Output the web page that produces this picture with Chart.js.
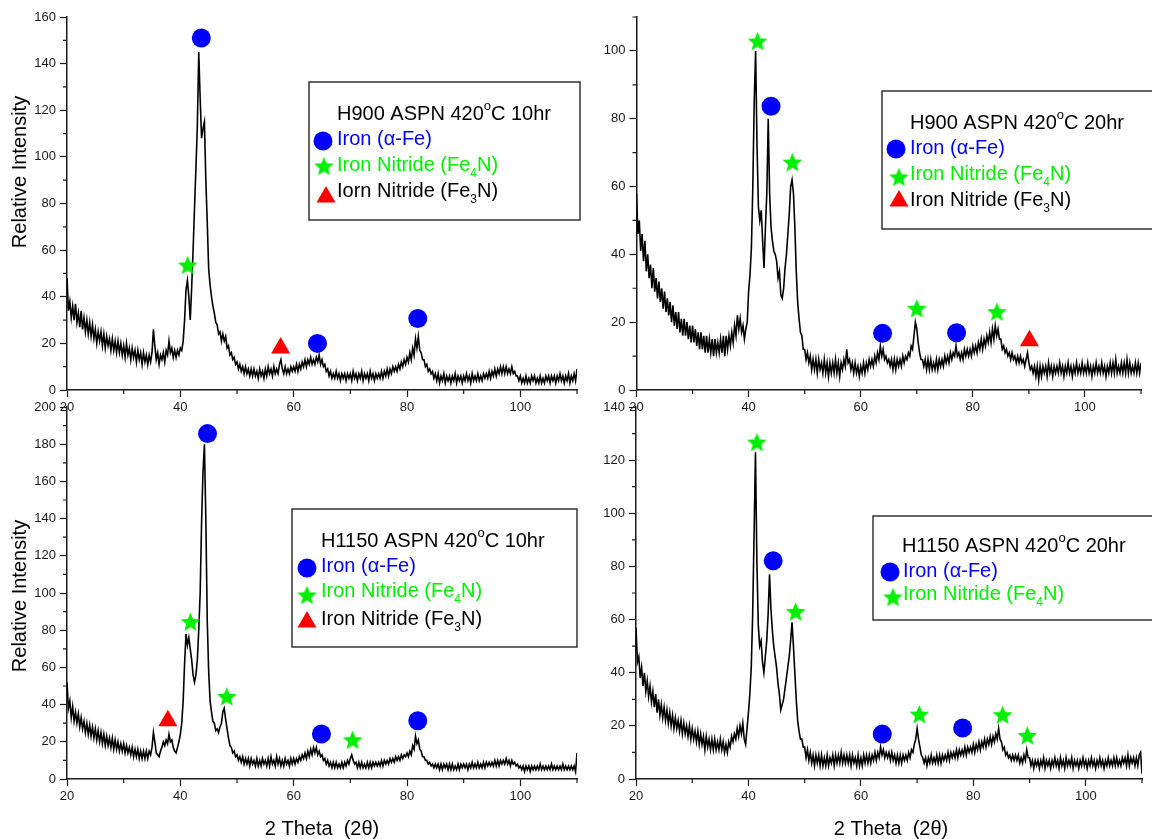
<!DOCTYPE html>
<html>
<head>
<meta charset="utf-8">
<title>XRD – H900 / H1150 ASPN 420°C</title>
<script src="https://cdn.jsdelivr.net/npm/chart.js@4.4.1/dist/chart.umd.min.js"></script>
<style>
  html, body { margin: 0; padding: 0; background: #fff; }
  #wrap { position: relative; width: 1152px; height: 839px; overflow: hidden; }
  #wrap canvas { position: absolute; left: 0; top: 0; }
</style>
</head>
<body>
<div id="wrap">
  <canvas id="h900_10" width="1152" height="839"></canvas>
  <canvas id="h900_20" width="1152" height="839"></canvas>
  <canvas id="h1150_10" width="1152" height="839"></canvas>
  <canvas id="h1150_20" width="1152" height="839"></canvas>
</div>
<script>
// 2θ sampling of the scans: 20° .. 110°, every 0.25°
const angleStart = 20, angleEnd = 110, angleStep = 0.25;
const angles = [];
for (let a = angleStart; a <= angleEnd + 1e-9; a += angleStep) angles.push(+a.toFixed(2));

// intensities, one row = 5° (20 samples)
const h900_10hr = [
  48,34,38,31,36,30,37,29,33,27,34,26,31,25,30,24,29,23,28,22,   // 20
  26,20,25,21,25,19,24,18,23,19,22,17,22,17,21,16,21,16,20,15,   // 25
  19,14,20,15,18,13,18,14,17,12,17,13,16,11,16,12,15,11,15,12,   // 30
  16,26,19,13,16,11,15,13,16,12,17,15,21,16,18,14,17,14,17,15,   // 35
  18,17,21,30,43,47,40,30,44,60,78,95,113,145,125,108,112,115,90,72, // 40
  52,45,40,36,33,29,28,24,25,21,24,21,23,18,19,15,16,13,14,11,   // 45
  12,9,11,8,10,7,10,7,9,6,9,6,9,6,8,5,9,6,8,5,                   // 50
  9,6,10,7,9,6,10,7,9,7,11,13,9,7,10,7,9,7,10,8,                 // 55
  10,8,11,8,11,9,12,10,13,10,13,11,14,11,13,11,14,12,15,11,      // 60
  13,10,11,8,9,6,8,5,7,5,8,5,7,4,7,5,7,4,7,5,                    // 65
  7,4,8,5,7,4,7,5,8,4,7,5,7,4,8,5,7,4,7,5,                       // 70
  7,5,8,5,8,6,9,6,9,7,10,8,10,8,11,9,12,10,13,11,                // 75
  14,12,16,13,18,15,22,18,23,17,16,13,13,10,11,8,9,7,8,5,        // 80
  7,4,7,3,6,4,7,3,6,4,6,3,6,4,7,3,6,4,6,3,                       // 85
  6,4,7,4,6,3,7,4,6,4,7,4,6,4,7,5,7,5,8,5,                       // 90
  8,6,9,6,9,7,10,7,10,7,10,7,9,7,10,7,8,6,6,4,                   // 95
  6,3,5,3,6,3,5,3,6,4,6,3,5,3,6,3,5,3,6,4,                       // 100
  6,3,6,4,6,3,6,4,7,4,6,3,6,4,7,3,6,4,7,4,                       // 105
  9                                                              // 110
];
const h900_20hr = [
  58,46,50,41,46,38,44,35,40,33,37,30,36,29,33,27,32,26,30,24,   // 20
  29,23,27,22,26,20,25,19,23,18,23,17,21,16,21,16,20,15,19,14,   // 25
  19,14,18,13,17,12,17,12,16,11,16,11,15,11,15,10,15,11,14,11,   // 30
  15,11,16,10,16,12,16,13,17,14,19,16,22,18,21,17,19,15,18,20,   // 35
  29,34,42,60,85,100,72,54,50,53,44,36,48,58,80,58,48,44,41,40,  // 40
  38,33,35,28,27,30,36,40,46,52,60,62,58,48,35,26,21,17,16,12,   // 45
  12,9,11,8,10,6,9,6,9,5,9,6,8,5,9,5,8,4,8,5,                    // 50
  8,5,9,5,8,4,8,6,9,7,12,8,9,6,8,5,8,5,7,4,                      // 55
  7,5,8,5,8,6,9,7,9,7,10,8,11,9,13,10,12,9,10,8,                 // 60
  9,7,9,6,9,6,9,7,9,7,10,8,10,9,11,10,13,12,16,20,               // 65
  18,14,11,9,9,7,9,6,9,6,9,6,8,6,9,6,9,7,9,7,                    // 70
  10,8,10,8,11,9,11,10,13,10,11,9,11,9,12,10,12,10,12,10,        // 75
  13,11,13,11,14,12,15,12,15,13,16,14,17,14,18,15,19,16,18,15,   // 80
  15,12,13,11,12,10,11,9,11,9,10,8,10,8,10,8,9,7,9,11,           // 85
  8,6,7,5,7,4,7,3,7,4,7,5,7,4,8,5,7,4,7,5,                       // 90
  7,5,8,5,7,4,7,5,8,5,7,4,7,5,8,5,7,5,8,5,                       // 95
  7,5,8,5,7,4,7,5,8,5,7,5,8,5,7,4,7,5,8,5,                       // 100
  8,5,9,5,7,5,8,5,8,5,9,5,8,5,7,5,8,5,8,5,                       // 105
  8                                                              // 110
];
const h1150_10hr = [
  52,38,42,33,39,31,36,30,35,28,33,27,31,25,30,24,29,23,28,22,   // 20
  27,21,26,20,25,19,24,18,23,18,22,17,22,16,21,16,20,15,19,15,   // 25
  19,14,18,14,17,13,17,12,16,12,16,11,15,11,15,11,15,11,15,13,   // 30
  17,25,20,14,13,12,15,17,20,18,21,19,24,20,21,17,15,14,17,20,   // 35
  24,30,42,62,78,72,76,70,64,56,52,56,64,80,100,138,165,180,140,85, // 40
  58,42,36,31,30,26,27,25,28,30,36,38,32,27,22,18,17,14,15,12,   // 45
  13,10,12,9,12,8,11,8,11,7,11,8,10,7,11,7,10,7,11,8,            // 50
  10,7,11,7,12,8,10,7,12,8,11,7,10,7,11,8,10,7,11,8,             // 55
  11,8,11,9,12,10,13,11,14,11,15,12,16,13,17,14,17,13,15,12,     // 60
  13,10,11,8,10,7,9,6,9,6,9,6,8,6,9,6,9,7,10,8,                  // 65
  11,13,10,8,9,6,9,6,9,6,8,6,9,6,9,6,9,7,9,7,                    // 70
  9,7,10,7,10,8,10,8,11,9,11,9,12,10,12,10,13,11,13,12,          // 75
  14,12,15,13,18,16,23,19,21,16,15,12,12,10,10,8,9,7,8,6,        // 80
  8,6,8,5,8,5,8,6,8,5,8,5,8,5,7,5,8,5,8,6,                       // 85
  8,6,8,5,8,6,9,6,8,6,9,6,8,6,9,6,9,7,9,7,                       // 90
  9,7,10,7,10,7,10,8,10,8,11,8,10,7,10,8,9,7,8,6,                // 95
  7,5,7,4,7,5,7,4,7,5,7,5,7,5,8,5,7,5,7,5,                       // 100
  7,5,8,5,7,5,7,5,7,5,8,5,7,5,7,5,7,5,7,4,                       // 105
  14                                                             // 110
];
const h1150_20hr = [
  57,44,46,38,42,35,40,33,37,31,35,29,33,27,32,25,30,24,28,23,   // 20
  27,22,26,21,25,20,24,19,23,19,22,18,22,17,21,17,20,16,20,15,   // 25
  19,15,18,14,18,13,17,13,16,11,16,12,15,11,15,11,15,11,14,11,   // 30
  15,11,14,10,13,10,14,12,16,14,17,15,19,16,20,17,21,15,13,19,   // 35
  25,32,42,62,92,123,82,58,50,52,44,40,46,52,62,77,64,56,50,46,  // 40
  42,36,32,26,28,30,34,38,42,46,52,59,50,40,30,22,18,15,15,12,   // 45
  12,8,11,7,10,6,9,5,9,6,9,5,9,5,8,5,9,5,8,6,                    // 50
  9,5,9,6,9,6,10,6,9,6,9,6,9,5,9,6,8,5,9,5,                      // 55
  8,5,9,6,9,6,9,6,9,7,10,7,10,8,12,9,11,8,10,8,                  // 60
  10,7,10,7,9,6,9,6,9,6,9,7,9,7,10,8,11,10,13,15,                // 65
  19,15,12,9,8,6,8,5,8,6,9,6,8,6,9,6,9,6,9,7,                    // 70
  9,7,10,7,10,8,10,8,11,8,11,9,11,9,12,9,12,10,12,10,            // 75
  13,10,13,11,14,11,14,12,15,12,15,13,16,13,16,14,17,15,19,15,   // 80
  14,11,12,9,10,8,9,7,9,7,9,7,9,6,8,6,9,7,11,8,                  // 85
  8,5,7,4,7,5,7,4,7,5,8,4,7,5,7,4,7,5,8,5,                       // 90
  7,4,8,5,7,4,8,5,7,5,8,4,7,5,7,4,7,5,8,5,                       // 95
  7,4,7,5,8,5,7,4,7,5,8,5,7,4,7,5,8,5,7,5,                       // 100
  8,5,8,5,7,5,8,6,8,5,9,5,8,6,8,5,8,5,9,10,                      // 105
  2                                                              // 110
];

// phase markers [2θ, intensity]
const h900_10hr_fe   = [[43.7, 151], [64.2, 20], [81.9, 30.7]];
const h900_10hr_fe4n = [[41.3, 53.6]];
const h900_10hr_fe3n = [[57.7, 18]];
const h900_20hr_fe   = [[44.0, 83.7], [63.9, 16.7], [77.1, 16.9]];
const h900_20hr_fe4n = [[41.6, 102.9], [47.8, 67.2], [70.0, 24.1], [84.3, 23.1]];
const h900_20hr_fe3n = [[90.1, 14.5]];
const h1150_10hr_fe   = [[44.8, 185.7], [64.9, 24.2], [81.9, 31.3]];
const h1150_10hr_fe4n = [[41.8, 84.6], [48.2, 44.4], [70.4, 21.1]];
const h1150_10hr_fe3n = [[37.8, 31.3]];
const h1150_20hr_fe   = [[44.4, 82.1], [63.8, 16.9], [78.1, 19.2]];
const h1150_20hr_fe4n = [[41.5, 126.8], [48.4, 63.0], [70.4, 24.4], [85.2, 24.2], [89.6, 16.4]];

const xTicksMajor = [20, 40, 60, 80, 100];

const BLUE = '#0000ff', GREEN = '#00ee00', RED = '#ff0000', INK = '#1a1a1a';
const FONT = "'Liberation Sans', Arial, sans-serif";

function makeStar(r, color) {
  const size = Math.ceil(r * 2 + 2);
  const c = document.createElement('canvas');
  c.width = size; c.height = size;
  const g = c.getContext('2d');
  const cx = size / 2, cy = size / 2 + r * 0.095;
  g.fillStyle = color;
  g.beginPath();
  for (let i = 0; i < 10; i++) {
    const rr = i % 2 === 0 ? r : r * 0.44;
    const ang = -Math.PI / 2 + i * Math.PI / 5;
    const px = cx + rr * Math.cos(ang), py = cy + rr * Math.sin(ang);
    if (i === 0) g.moveTo(px, py); else g.lineTo(px, py);
  }
  g.closePath();
  g.fill();
  return c;
}
const STAR = makeStar(10.3, GREEN);

function drawMarker(ctx, kind, x, y) {
  ctx.save();
  if (kind === 'circle') {
    ctx.fillStyle = BLUE;
    ctx.beginPath(); ctx.arc(x, y, 9.5, 0, Math.PI * 2); ctx.fill();
  } else if (kind === 'triangle') {
    const r = 11;
    ctx.fillStyle = RED;
    ctx.beginPath();
    ctx.moveTo(x, y - r);
    ctx.lineTo(x + r * 0.866, y + r * 0.5);
    ctx.lineTo(x - r * 0.866, y + r * 0.5);
    ctx.closePath(); ctx.fill();
  } else {
    ctx.drawImage(STAR, x - STAR.width / 2, y - STAR.height / 2);
  }
  ctx.restore();
}

function drawRich(ctx, parts, x, y, size) {
  let cx = x;
  parts.forEach(p => {
    const txt = Array.isArray(p) ? p[0] : p;
    const kind = Array.isArray(p) ? p[1] : '';
    let fs = size, dy = 0;
    if (kind === 'sub') { fs = 12; dy = 6; }
    if (kind === 'sup') { fs = 13; dy = -10; }
    ctx.font = fs + 'px ' + FONT;
    ctx.fillText(txt, cx, y + dy);
    cx += ctx.measureText(txt).width;
  });
}

// legend box, axis titles and minor ticks
function decorPlugin(cfg) {
  return {
    id: 'decor',
    afterDraw(chart) {
      const ctx = chart.ctx;
      const xs = chart.scales.x, ys = chart.scales.y;
      ctx.save();
      // minor ticks
      ctx.strokeStyle = INK; ctx.lineWidth = 1.2;
      ctx.beginPath();
      xs.ticks.forEach(t => {
        if (t.value % 20 !== 0) {
          const px = xs.getPixelForValue(t.value);
          ctx.moveTo(px, xs.top); ctx.lineTo(px, xs.top + 4);
        }
      });
      ys.ticks.forEach(t => {
        if (t.value % 20 !== 0) {
          const py = ys.getPixelForValue(t.value);
          ctx.moveTo(ys.right, py); ctx.lineTo(ys.right - 4, py);
        }
      });
      ctx.stroke();

      // legend
      const lg = cfg.legend;
      ctx.strokeStyle = '#333'; ctx.lineWidth = 1.5;
      ctx.strokeRect(lg.box[0], lg.box[1], lg.box[2] - lg.box[0], lg.box[3] - lg.box[1]);
      ctx.textAlign = 'left'; ctx.textBaseline = 'alphabetic';
      ctx.fillStyle = '#000';
      drawRich(ctx, lg.title.parts, lg.title.x, lg.title.y, 20);
      lg.rows.forEach(r => {
        drawMarker(ctx, r.marker, r.mx, r.my);
        ctx.fillStyle = r.color;
        drawRich(ctx, r.parts, r.x, r.y, 20);
      });

      // axis titles
      ctx.fillStyle = '#000';
      ctx.font = '20px ' + FONT;
      if (cfg.yTitle) {
        ctx.save();
        ctx.translate(cfg.yTitle.x, cfg.yTitle.y);
        ctx.rotate(-Math.PI / 2);
        ctx.textAlign = 'center'; ctx.textBaseline = 'middle';
        ctx.fillText(cfg.yTitle.text, 0, 0);
        ctx.restore();
      }
      if (cfg.xTitle) {
        ctx.textAlign = 'center'; ctx.textBaseline = 'alphabetic';
        ctx.fillText(cfg.xTitle.text, cfg.xTitle.x, cfg.xTitle.y);
      }
      ctx.restore();
    }
  };
}

function markerSet(points, style, color, radius) {
  return {
    data: points.map(p => ({ x: p[0], y: p[1] })),
    showLine: false,
    pointStyle: style,
    pointRadius: radius,
    pointBackgroundColor: color,
    pointBorderWidth: 0,
    clip: false,
    order: 0
  };
}

function tickCfg() {
  return {
    display: true, drawOnChartArea: false, drawTicks: true,
    tickLength: 7, tickWidth: 1.2,
    tickColor: c => (c.tick && c.tick.value % 20 === 0) ? INK : 'rgba(0,0,0,0)'
  };
}

function panel(id, cfg) {
  const a = cfg.area;
  const datasets = [
    { data: cfg.trace, borderColor: '#000', borderWidth: 1.6, pointRadius: 0, tension: 0, order: 2 },
    markerSet(cfg.fe, 'circle', BLUE, 9.5),
    markerSet(cfg.fe4n, STAR, GREEN, 10)
  ];
  if (cfg.fe3n) datasets.push(markerSet(cfg.fe3n, 'triangle', RED, 11));

  new Chart(document.getElementById(id), {
    type: 'line',
    data: { labels: angles, datasets: datasets },
    options: {
      responsive: false,
      animation: false,
      events: [],
      layout: { padding: { left: a.left - 50, top: a.top, right: 1152 - a.right, bottom: 839 - a.bottom - 30 } },
      plugins: { legend: { display: false }, tooltip: { enabled: false } },
      scales: {
        x: {
          type: 'linear', min: 20, max: 110,
          afterFit: s => { s.height = 30; },
          border: { display: true, color: INK, width: 1.5 },
          grid: tickCfg(),
          ticks: {
            stepSize: 10, autoSkip: false, maxRotation: 0, padding: 3,
            color: INK, font: { family: FONT, size: 13 },
            callback: v => xTicksMajor.includes(v) ? String(v) : ''
          }
        },
        y: {
          type: 'linear', min: 0, max: cfg.yMax,
          afterFit: s => { s.width = 50; },
          border: { display: true, color: INK, width: 1.5 },
          grid: tickCfg(),
          ticks: {
            stepSize: 10, autoSkip: false, padding: 4,
            color: INK, font: { family: FONT, size: 13 },
            callback: v => v % 20 === 0 ? String(v) : ''
          }
        }
      }
    },
    plugins: [decorPlugin(cfg)]
  });
}

panel('h900_10', {
  area: { left: 67, top: 17, right: 577, bottom: 390 }, yMax: 160,
  trace: h900_10hr, fe: h900_10hr_fe, fe4n: h900_10hr_fe4n, fe3n: h900_10hr_fe3n,
  yTitle: { text: 'Relative Intensity', x: 20, y: 172 },
  legend: {
    box: [309, 82, 580, 220],
    title: { x: 337, y: 120, parts: ['H900 ASPN 420', ['o', 'sup'], 'C 10hr'] },
    rows: [
      { marker: 'circle', mx: 323, my: 141, x: 337, y: 145, color: BLUE, parts: ['Iron (α-Fe)'] },
      { marker: 'star', mx: 324, my: 166, x: 337, y: 170.5, color: GREEN, parts: ['Iron Nitride (Fe', ['4', 'sub'], 'N)'] },
      { marker: 'triangle', mx: 326, my: 197, x: 337, y: 197, color: '#000', parts: ['Iorn Nitride (Fe', ['3', 'sub'], 'N)'] }
    ]
  }
});

panel('h900_20', {
  area: { left: 636.5, top: 17, right: 1147, bottom: 390 }, yMax: 110,
  trace: h900_20hr, fe: h900_20hr_fe, fe4n: h900_20hr_fe4n, fe3n: h900_20hr_fe3n,
  legend: {
    box: [882, 91, 1160, 229],
    title: { x: 910, y: 129, parts: ['H900 ASPN 420', ['o', 'sup'], 'C 20hr'] },
    rows: [
      { marker: 'circle', mx: 896, my: 149, x: 910, y: 154, color: BLUE, parts: ['Iron (α-Fe)'] },
      { marker: 'star', mx: 899, my: 177, x: 910, y: 180, color: GREEN, parts: ['Iron Nitride (Fe', ['4', 'sub'], 'N)'] },
      { marker: 'triangle', mx: 899, my: 201, x: 910, y: 206, color: '#000', parts: ['Iron Nitride (Fe', ['3', 'sub'], 'N)'] }
    ]
  }
});

panel('h1150_10', {
  area: { left: 67, top: 407, right: 577, bottom: 779 }, yMax: 200,
  trace: h1150_10hr, fe: h1150_10hr_fe, fe4n: h1150_10hr_fe4n, fe3n: h1150_10hr_fe3n,
  yTitle: { text: 'Relative Intensity', x: 20, y: 596 },
  xTitle: { text: '2 Theta  (2θ)', x: 322, y: 835 },
  legend: {
    box: [292, 509, 577, 647],
    title: { x: 321, y: 547, parts: ['H1150 ASPN 420', ['o', 'sup'], 'C 10hr'] },
    rows: [
      { marker: 'circle', mx: 307, my: 568, x: 321, y: 572, color: BLUE, parts: ['Iron (α-Fe)'] },
      { marker: 'star', mx: 307, my: 595, x: 321, y: 597, color: GREEN, parts: ['Iron Nitride (Fe', ['4', 'sub'], 'N)'] },
      { marker: 'triangle', mx: 307, my: 622, x: 321, y: 625, color: '#000', parts: ['Iron Nitride (Fe', ['3', 'sub'], 'N)'] }
    ]
  }
});

panel('h1150_20', {
  area: { left: 636, top: 407, right: 1147, bottom: 779 }, yMax: 140,
  trace: h1150_20hr, fe: h1150_20hr_fe, fe4n: h1150_20hr_fe4n,
  xTitle: { text: '2 Theta  (2θ)', x: 891, y: 835 },
  legend: {
    box: [873, 516, 1160, 620],
    title: { x: 902, y: 552, parts: ['H1150 ASPN 420', ['o', 'sup'], 'C 20hr'] },
    rows: [
      { marker: 'circle', mx: 890, my: 572, x: 903, y: 577, color: BLUE, parts: ['Iron (α-Fe)'] },
      { marker: 'star', mx: 893, my: 597, x: 903, y: 600, color: GREEN, parts: ['Iron Nitride (Fe', ['4', 'sub'], 'N)'] }
    ]
  }
});
</script>
</body>
</html>
